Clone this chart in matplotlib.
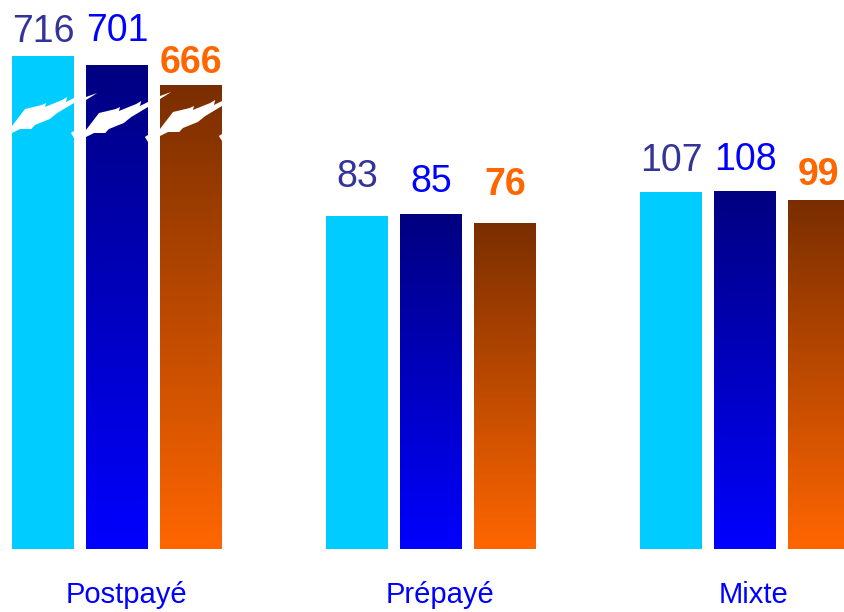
import numpy as np
import matplotlib
matplotlib.use('Agg')
import matplotlib.pyplot as plt
from matplotlib.colors import LinearSegmentedColormap
from matplotlib.patches import Polygon

categories = ['Postpayé', 'Prépayé', 'Mixte']
serie1 = [716, 83, 107]
serie2 = [701, 85, 108]
serie3 = [666, 76, 99]

# gap (px) between bar top and label baseline
label_gaps = [[14, 24, 12], [29, 22, 28], [21, 21, 15]]

BASE = -250          # baseline of the bars in data units (1 unit ~ 1 px)
CUT = 300            # above this the bar is drawn "broken"


def shown(v):
    if v > CUT:
        return 0.58 * v - 172.3
    return v


fig = plt.figure(figsize=(8.45, 6.12), dpi=100)
ax = fig.add_axes([0, 0, 1, 1])
ax.axis('off')

w = 62 / 314.
step = 74 / 314.
x = np.arange(len(categories))

styles = [
    dict(bottom='#00CCFF', top='#00CCFF', lab='#333399', weight='normal'),
    dict(bottom='#0000FF', top='#000080', lab='#0000FF', weight='normal'),
    dict(bottom='#FF6600', top='#7A2E00', lab='#FF6600', weight='bold'),
]
series = [serie1, serie2, serie3]

# lightning bolt: (fraction of bar width, y offset in px from break level)
bolt_u = [0, .21, .48, .55, .53, .81, .89, .87, 1.0,
          1.0, .73, .65, .61, .37, .31, .13, 0]
bolt_dy = [-41, -24, -20, -18, -22, -15, -12, -17, -13,
           -18, -28, -32, -34, -40, -44, -44, -48]
frag_tl = ([0, .18, 0], [-8, -4, -11])
frag_br = ([.95, 1.0, 1.0], [-48, -46, -53])
BOLT_Y = 214
bolt_shift = [0, -4, -3]

grad = np.linspace(0, 1, 256).reshape(-1, 1)

for k, (vals, st) in enumerate(zip(series, styles)):
    xs = x + (k - 1) * step
    hs = [shown(v) - BASE for v in vals]
    bars = ax.bar(xs, hs, width=w, bottom=BASE, color=st['bottom'],
                  linewidth=0, zorder=2)
    cm = LinearSegmentedColormap.from_list('g%d' % k, [st['bottom'], st['top']])
    for b, v, xc, g in zip(bars, vals, xs, label_gaps):
        top = shown(v)
        if st['bottom'] != st['top']:
            im = ax.imshow(grad, extent=[xc - w / 2, xc + w / 2, BASE, top],
                           origin='lower', aspect='auto', cmap=cm, zorder=3,
                           interpolation='bilinear')
            im.set_clip_path(b)
        if v > CUT:
            shapes = [(bolt_u, bolt_dy), frag_br]
            if k > 0:
                shapes.append(frag_tl)
            for us, dys in shapes:
                pts = [(xc - w / 2 + u * w, BOLT_Y + dy + bolt_shift[k])
                       for u, dy in zip(us, dys)]
                p = Polygon(pts, closed=True, facecolor='white',
                            edgecolor='none', zorder=4)
                ax.add_patch(p)
                p.set_clip_path(b)
        ax.annotate(str(v), (xc, top), xytext=(0, g[k] * 0.72),
                    textcoords='offset points', ha='center', va='baseline',
                    fontsize=27, color=st['lab'], fontweight=st['weight'],
                    family='Liberation Sans', zorder=5)

for xc, name in zip(x, categories):
    ax.text(xc + 9 / 314., -304, name, ha='center', va='baseline',
            fontsize=21, color='#0000FF', family='Liberation Sans')

ax.set_xlim(-117 / 314., 728 / 314.)
ax.set_ylim(-313, 299)

fig.savefig('out.png', dpi=100)
